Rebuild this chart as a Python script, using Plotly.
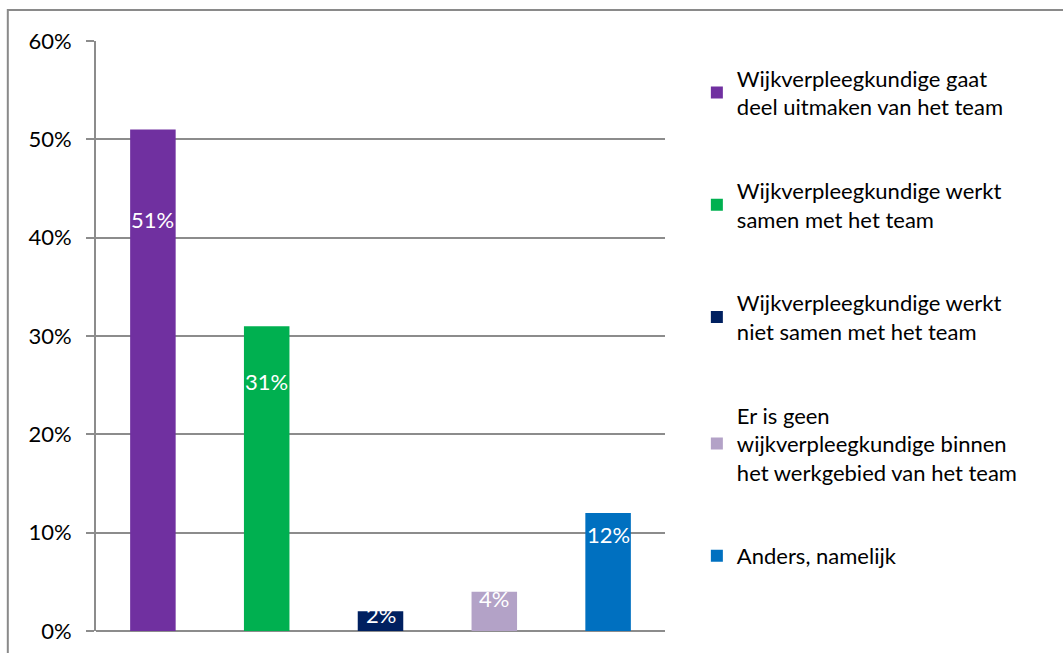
import plotly.graph_objects as go

# Survey answers and their shares (%)
categories = [
    "Wijkverpleegkundige gaat<br>deel uitmaken van het team",
    "Wijkverpleegkundige werkt<br>samen met het team",
    "Wijkverpleegkundige werkt<br>niet samen met het team",
    "Er is geen<br>wijkverpleegkundige binnen<br>het werkgebied van het team",
    "Anders, namelijk",
]
values = [51, 31, 2, 4, 12]
colors = ["#7030A0", "#00B050", "#002060", "#B3A2C7", "#0070C0"]
tick_vals = [0, 10, 20, 30, 40, 50, 60]
tick_text = ["0%", "10%", "20%", "30%", "40%", "50%", "60%"]

FONT = "Lato, 'Open Sans', sans-serif"
GRID = "#8c8c8c"

fig = go.Figure()
for i, (cat, val, col) in enumerate(zip(categories, values, colors)):
    fig.add_trace(go.Bar(
        x=[i], y=[val], name=cat, marker=dict(color=col, line=dict(width=0)),
        legendgroup=str(i), hoverinfo="name+y",
    ))
    # label sits a little below the bar top, like the original
    fig.add_annotation(
        x=i, y=val * 0.82, text=f"{val}%", showarrow=False,
        font=dict(size=22, color="white", family=FONT),
        xanchor="center", yanchor="middle",
    )

# outer frame
fig.add_shape(type="rect", xref="paper", yref="paper",
              x0=-0.155, x1=1.72, y0=-0.06, y1=1.0525,
              line=dict(color="#8a8a8a", width=2), fillcolor="rgba(0,0,0,0)",
              layer="below")

fig.update_layout(
    width=1063, height=653,
    paper_bgcolor="white", plot_bgcolor="white",
    font=dict(family=FONT, size=22, color="#000000"),
    margin=dict(l=96, r=398, t=41, b=22, autoexpand=False),
    bargap=0.6,
    showlegend=True,
    legend=dict(
        x=1.056, y=0.972, xanchor="left", yanchor="top",
        font=dict(size=22, family=FONT, color="#000000"),
        tracegroupgap=52, itemwidth=30,
        bgcolor="rgba(0,0,0,0)",
    ),
    xaxis=dict(
        range=[-0.5, 4.5], showticklabels=False, showgrid=False,
        zeroline=False, showline=False, ticks="", automargin=False,
    ),
    yaxis=dict(
        range=[0, 60], tickvals=tick_vals, ticktext=tick_text,
        showgrid=True, gridcolor=GRID, gridwidth=1.5,
        showline=True, linecolor=GRID, linewidth=2,
        ticks="outside", ticklen=8, tickcolor=GRID, tickwidth=1.5,
        zeroline=True, zerolinecolor=GRID, zerolinewidth=2,
        tickfont=dict(size=22, family=FONT), ticklabelstandoff=10,
        automargin=False,
    ),
)

fig.write_html("out.html", config={"displayModeBar": False},
               post_script="document.body.style.margin='0';")
